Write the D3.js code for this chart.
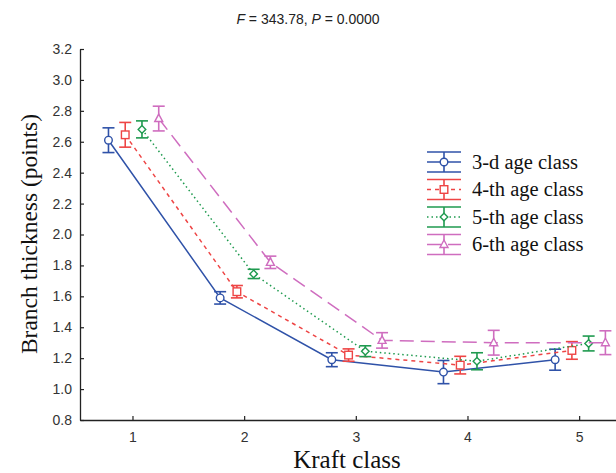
<!DOCTYPE html>
<html>
  <head>
    <meta charset="utf-8" />
    <script src="https://cdn.jsdelivr.net/npm/d3@7"></script>
    <style>
      body {
        margin: 0;
        background: #fff;
      }
    </style>
  </head>
  <body>
    <script>
      // data
      var kraft = [1, 2, 3, 4, 5];
      var ageClasses = ["3-d age class", "4-th age class", "5-th age class", "6-th age class"];
      var means3 = [2.61, 1.59, 1.19, 1.11, 1.19];
      var err3 = [0.08, 0.04, 0.045, 0.075, 0.068];
      var means4 = [2.645, 1.63, 1.22, 1.155, 1.25];
      var err4 = [0.08, 0.04, 0.04, 0.057, 0.057];
      var means5 = [2.68, 1.745, 1.245, 1.18, 1.295];
      var err5 = [0.055, 0.03, 0.035, 0.055, 0.048];
      var means6 = [2.75, 1.82, 1.315, 1.3, 1.3];
      var err6 = [0.08, 0.04, 0.05, 0.08, 0.077];
      var yTicks = [0.8, 1.0, 1.2, 1.4, 1.6, 1.8, 2.0, 2.2, 2.4, 2.6, 2.8, 3.0, 3.2];

      var series = [
        { name: ageClasses[0], means: means3, errs: err3, color: "#2f52a8", dash: null, shape: "circle", off: -0.215 },
        { name: ageClasses[1], means: means4, errs: err4, color: "#ee4545", dash: "4,4", shape: "square", off: -0.065 },
        { name: ageClasses[2], means: means5, errs: err5, color: "#1f9a4f", dash: "1.5,3", shape: "diamond", off: 0.085 },
        { name: ageClasses[3], means: means6, errs: err6, color: "#cf6dbf", dash: "14,7", shape: "triangle", off: 0.235 },
      ];

      var W = 616, H = 473;
      var plotL = 80, plotR = 616, plotT = 49, plotB = 420;

      var svg = d3.select("body").append("svg").attr("width", W).attr("height", H);

      var x = d3.scaleLinear().domain([0.53, 5.33]).range([plotL, plotR]);
      var y = d3.scaleLinear().domain([0.8, 3.2]).range([plotB, plotT]);

      // axes (ticks point inward)
      var yAxis = d3.axisLeft(y).tickValues(yTicks).tickFormat(d3.format(".1f")).tickSizeInner(-4).tickSizeOuter(0).tickPadding(8);
      var gy = svg.append("g").attr("transform", "translate(" + plotL + ",0)").call(yAxis);
      var xAxis = d3.axisBottom(x).tickValues(kraft).tickFormat(d3.format("d")).tickSizeInner(-4).tickSizeOuter(0).tickPadding(12);
      var gx = svg.append("g").attr("transform", "translate(0," + plotB + ")").call(xAxis);

      [gx, gy].forEach(function (g) {
        g.attr("font-size", 14).attr("font-family", "'Liberation Sans', Arial, sans-serif");
        g.select(".domain").attr("stroke", "#222").attr("stroke-width", 1.3);
        g.selectAll(".tick line").attr("stroke", "#222").attr("stroke-width", 1.2);
        g.selectAll("text").attr("fill", "#333");
      });

      // title
      var title = svg.append("text")
        .attr("x", 308)
        .attr("y", 24)
        .attr("text-anchor", "middle")
        .style("font-family", "'Liberation Sans', Arial, sans-serif")
        .style("font-size", "14px")
        .attr("fill", "#222");
      title.append("tspan").style("font-style", "italic").text("F");
      title.append("tspan").text(" = 343.78, ");
      title.append("tspan").style("font-style", "italic").text("P");
      title.append("tspan").text(" = 0.0000");

      // axis titles
      svg.append("text")
        .attr("x", 347)
        .attr("y", 468)
        .attr("text-anchor", "middle")
        .style("font-family", "'Liberation Serif', 'Times New Roman', serif")
        .style("font-size", "25px")
        .attr("fill", "#111")
        .text("Kraft class");

      svg.append("text")
        .attr("transform", "translate(37,234) rotate(-90)")
        .attr("text-anchor", "middle")
        .style("font-family", "'Liberation Serif', 'Times New Roman', serif")
        .style("font-size", "23.5px")
        .attr("fill", "#111")
        .text("Branch thickness (points)");

      function drawMarker(g, shape, cx, cy, color) {
        if (shape === "circle") {
          g.append("circle").attr("cx", cx).attr("cy", cy).attr("r", 3.8)
            .attr("fill", "#fff").attr("stroke", color).attr("stroke-width", 1.4);
        } else if (shape === "square") {
          g.append("rect").attr("x", cx - 3.8).attr("y", cy - 3.8).attr("width", 7.6).attr("height", 7.6)
            .attr("fill", "#fff").attr("stroke", color).attr("stroke-width", 1.4);
        } else if (shape === "diamond") {
          g.append("path")
            .attr("d", "M" + cx + "," + (cy - 3.8) + "L" + (cx + 3.8) + "," + cy + "L" + cx + "," + (cy + 3.8) + "L" + (cx - 3.8) + "," + cy + "Z")
            .attr("fill", "#fff").attr("stroke", color).attr("stroke-width", 1.4);
        } else {
          g.append("path")
            .attr("d", "M" + cx + "," + (cy - 4.5) + "L" + (cx + 4) + "," + (cy + 3) + "L" + (cx - 4) + "," + (cy + 3) + "Z")
            .attr("fill", "#fff").attr("stroke", color).attr("stroke-width", 1.4);
        }
      }

      var line = d3.line()
        .x(function (d) { return d.x; })
        .y(function (d) { return d.y; });

      var cap = 6;

      series.forEach(function (s) {
        var pts = kraft.map(function (k, i) {
          return { x: x(k + s.off), y: y(s.means[i]), lo: y(s.means[i] - s.errs[i]), hi: y(s.means[i] + s.errs[i]) };
        });
        var g = svg.append("g");
        g.append("path")
          .datum(pts)
          .attr("d", line)
          .attr("fill", "none")
          .attr("stroke", s.color)
          .attr("stroke-width", 1.5)
          .attr("stroke-dasharray", s.dash);

        pts.forEach(function (p) {
          g.append("line").attr("x1", p.x).attr("x2", p.x).attr("y1", p.hi).attr("y2", p.lo)
            .attr("stroke", s.color).attr("stroke-width", 1.6);
          g.append("line").attr("x1", p.x - cap).attr("x2", p.x + cap).attr("y1", p.hi).attr("y2", p.hi)
            .attr("stroke", s.color).attr("stroke-width", 1.6);
          g.append("line").attr("x1", p.x - cap).attr("x2", p.x + cap).attr("y1", p.lo).attr("y2", p.lo)
            .attr("stroke", s.color).attr("stroke-width", 1.6);
          drawMarker(g, s.shape, p.x, p.y, s.color);
        });
      });

      // legend
      var lx = 427, lw = 34, ly0 = 162, lstep = 27.5;
      series.forEach(function (s, i) {
        var cy = ly0 + i * lstep;
        var g = svg.append("g");
        g.append("line").attr("x1", lx).attr("x2", lx + lw).attr("y1", cy - 10).attr("y2", cy - 10)
          .attr("stroke", s.color).attr("stroke-width", 1.6);
        g.append("line").attr("x1", lx).attr("x2", lx + lw).attr("y1", cy + 10).attr("y2", cy + 10)
          .attr("stroke", s.color).attr("stroke-width", 1.6);
        g.append("line").attr("x1", lx + lw / 2).attr("x2", lx + lw / 2).attr("y1", cy - 10).attr("y2", cy + 10)
          .attr("stroke", s.color).attr("stroke-width", 1.6);
        g.append("line").attr("x1", lx).attr("x2", lx + lw).attr("y1", cy).attr("y2", cy)
          .attr("stroke", s.color).attr("stroke-width", 1.5).attr("stroke-dasharray", s.dash);
        drawMarker(g, s.shape, lx + lw / 2, cy, s.color);
        g.append("text")
          .attr("x", lx + 45)
          .attr("y", cy + 6.5)
          .style("font-family", "'Liberation Serif', 'Times New Roman', serif")
          .style("font-size", "20.5px")
          .attr("fill", "#111")
          .text(s.name);
      });
    </script>
  </body>
</html>
